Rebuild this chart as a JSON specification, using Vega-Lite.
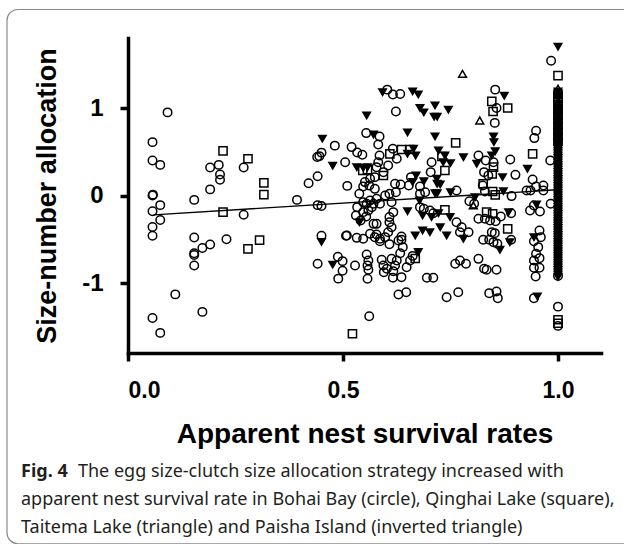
{
  "$schema": "https://vega.github.io/schema/vega-lite/v6.json",
  "width": 473,
  "height": 315,
  "autosize": {"type": "none"},
  "padding": {"left": 128, "top": 38, "right": 23, "bottom": 191},
  "background": "white",
  "config": {"view": {"stroke": null}},
  "title": {
    "text": "Fig. 4",
    "subtitle": [
      "\u200b\u2003\u2003\u2003\u2009The egg size-clutch size allocation strategy increased with",
      "apparent nest survival rate in Bohai Bay (circle), Qinghai Lake (square),",
      "Taitema Lake (triangle) and Paisha Island (inverted triangle)"
    ],
    "orient": "bottom",
    "anchor": "start",
    "frame": "group",
    "dx": -107,
    "offset": -81,
    "font": "Noto Sans",
    "fontSize": 18,
    "fontWeight": "bold",
    "color": "#231f20",
    "subtitleFont": "Noto Sans",
    "subtitleFontSize": 18,
    "subtitleFontWeight": "normal",
    "subtitleColor": "#231f20",
    "subtitleLineHeight": 28,
    "subtitlePadding": -18
  },
  "datasets": {
    "frame": [{"x0": -0.2814, "x1": 1.25, "y0": 2.126, "y1": -3.98}],
    "fit": [{"rate": 0.059, "alloc": -0.221}, {"rate": 0.997, "alloc": 0.065}],
    "pts": [
      {"rate":0.092,"alloc":0.95,"site":"B"},{"rate":0.057,"alloc":0.61,"site":"B"},{"rate":0.057,"alloc":0.40,"site":"B"},{"rate":0.075,"alloc":0.35,"site":"B"},
      {"rate":0.057,"alloc":0.00,"site":"B"},{"rate":0.058,"alloc":0.01,"site":"B"},{"rate":0.075,"alloc":-0.11,"site":"B"},{"rate":0.057,"alloc":-0.18,"site":"B"},
      {"rate":0.075,"alloc":-0.28,"site":"B"},{"rate":0.057,"alloc":-0.36,"site":"B"},{"rate":0.057,"alloc":-0.46,"site":"B"},{"rate":0.110,"alloc":-1.13,"site":"B"},
      {"rate":0.057,"alloc":-1.40,"site":"B"},{"rate":0.075,"alloc":-1.57,"site":"B"},{"rate":0.154,"alloc":-0.05,"site":"B"},{"rate":0.154,"alloc":-0.48,"site":"B"},
      {"rate":0.154,"alloc":-0.66,"site":"B"},{"rate":0.154,"alloc":-0.68,"site":"B"},{"rate":0.154,"alloc":-0.80,"site":"B"},{"rate":0.173,"alloc":-0.60,"site":"B"},
      {"rate":0.191,"alloc":-0.56,"site":"B"},{"rate":0.173,"alloc":-1.33,"site":"B"},{"rate":0.191,"alloc":0.32,"site":"B"},{"rate":0.211,"alloc":0.35,"site":"B"},
      {"rate":0.214,"alloc":0.24,"site":"B"},{"rate":0.214,"alloc":0.18,"site":"B"},{"rate":0.191,"alloc":0.07,"site":"B"},{"rate":0.229,"alloc":-0.50,"site":"B"},
      {"rate":0.269,"alloc":0.32,"site":"B"},{"rate":0.269,"alloc":-0.22,"site":"B"},
      {"rate":0.221,"alloc":0.51,"site":"Q"},{"rate":0.279,"alloc":0.42,"site":"Q"},{"rate":0.316,"alloc":0.145,"site":"Q"},{"rate":0.316,"alloc":0.01,"site":"Q"},
      {"rate":0.221,"alloc":-0.19,"site":"Q"},{"rate":0.279,"alloc":-0.61,"site":"Q"},{"rate":0.306,"alloc":-0.51,"site":"Q"},
      {"rate":0.393,"alloc":-0.05,"site":"B"},{"rate":0.420,"alloc":0.14,"site":"B"},{"rate":0.441,"alloc":0.22,"site":"B"},{"rate":0.440,"alloc":0.44,"site":"B"},
      {"rate":0.445,"alloc":0.45,"site":"B"},{"rate":0.450,"alloc":0.49,"site":"B"},{"rate":0.481,"alloc":0.57,"site":"B"},{"rate":0.505,"alloc":0.38,"site":"B"},
      {"rate":0.510,"alloc":0.11,"site":"B"},{"rate":0.441,"alloc":-0.11,"site":"B"},{"rate":0.450,"alloc":-0.12,"site":"B"},{"rate":0.450,"alloc":-0.46,"site":"B"},
      {"rate":0.507,"alloc":-0.46,"site":"B"},{"rate":0.441,"alloc":-0.78,"site":"B"},{"rate":0.488,"alloc":-0.70,"site":"B"},{"rate":0.499,"alloc":-0.75,"site":"B"},
      {"rate":0.499,"alloc":-0.86,"site":"B"},{"rate":0.489,"alloc":-0.95,"site":"B"},
      {"rate":0.452,"alloc":0.65,"site":"P"},{"rate":0.476,"alloc":0.34,"site":"P"},{"rate":0.450,"alloc":-0.53,"site":"P"},{"rate":0.476,"alloc":-0.79,"site":"P"},
      {"rate":0.528,"alloc":-0.80,"site":"B"},{"rate":0.522,"alloc":-1.58,"site":"Q"},{"rate":0.561,"alloc":-1.38,"site":"B"},
      {"rate":1.0,"alloc":1.70,"site":"P"},{"rate":0.984,"alloc":1.54,"site":"B"},{"rate":1.0,"alloc":1.37,"site":"Q"},{"rate":0.778,"alloc":1.39,"site":"T"},
      {"rate":0.592,"alloc":1.18,"site":"P"},{"rate":0.603,"alloc":1.21,"site":"B"},{"rate":0.616,"alloc":1.155,"site":"B"},{"rate":0.633,"alloc":1.16,"site":"B"},
      {"rate":0.662,"alloc":1.19,"site":"P"},{"rate":0.675,"alloc":1.155,"site":"P"},{"rate":0.854,"alloc":1.21,"site":"B"},{"rate":0.875,"alloc":1.14,"site":"P"},
      {"rate":0.846,"alloc":1.075,"site":"Q"},{"rate":0.857,"alloc":1.00,"site":"B"},{"rate":0.849,"alloc":0.96,"site":"Q"},{"rate":0.883,"alloc":1.00,"site":"Q"},
      {"rate":0.623,"alloc":0.96,"site":"B"},{"rate":0.679,"alloc":1.00,"site":"P"},{"rate":0.688,"alloc":0.95,"site":"P"},{"rate":0.714,"alloc":1.03,"site":"P"},
      {"rate":0.712,"alloc":0.90,"site":"P"},{"rate":0.719,"alloc":0.90,"site":"P"},{"rate":0.745,"alloc":0.98,"site":"P"},{"rate":0.555,"alloc":0.915,"site":"P"},
      {"rate":0.818,"alloc":0.857,"site":"T"},{"rate":0.853,"alloc":0.83,"site":"B"},{"rate":0.949,"alloc":0.74,"site":"B"},{"rate":0.945,"alloc":0.656,"site":"B"},
      {"rate":0.850,"alloc":0.675,"site":"P"},{"rate":0.851,"alloc":0.61,"site":"P"},{"rate":0.650,"alloc":0.72,"site":"P"},{"rate":0.714,"alloc":0.675,"site":"P"},
      {"rate":0.554,"alloc":0.713,"site":"B"},{"rate":0.571,"alloc":0.697,"site":"P"},{"rate":0.585,"alloc":0.675,"site":"B"},{"rate":0.582,"alloc":0.583,"site":"B"},
      {"rate":0.762,"alloc":0.602,"site":"Q"},{"rate":0.520,"alloc":0.553,"site":"B"},{"rate":0.533,"alloc":0.492,"site":"B"},{"rate":0.545,"alloc":0.465,"site":"B"},
      {"rate":0.636,"alloc":0.526,"site":"Q"},{"rate":0.656,"alloc":0.526,"site":"Q"},{"rate":0.664,"alloc":0.534,"site":"P"},{"rate":0.650,"alloc":0.476,"site":"P"},
      {"rate":0.669,"alloc":0.457,"site":"P"},{"rate":0.609,"alloc":0.476,"site":"Q"},{"rate":0.616,"alloc":0.534,"site":"B"},{"rate":0.625,"alloc":0.419,"site":"B"},
      {"rate":0.585,"alloc":0.457,"site":"B"},{"rate":0.582,"alloc":0.381,"site":"B"},{"rate":0.722,"alloc":0.515,"site":"P"},{"rate":0.737,"alloc":0.457,"site":"P"},
      {"rate":0.733,"alloc":0.381,"site":"P"},{"rate":0.730,"alloc":0.446,"site":"Q"},{"rate":0.750,"alloc":0.370,"site":"P"},{"rate":0.780,"alloc":0.438,"site":"P"},
      {"rate":0.941,"alloc":0.476,"site":"Q"},{"rate":0.815,"alloc":0.457,"site":"B"},{"rate":0.832,"alloc":0.400,"site":"B"},{"rate":0.811,"alloc":0.362,"site":"P"},
      {"rate":0.846,"alloc":0.457,"site":"P"},{"rate":0.854,"alloc":0.507,"site":"P"},{"rate":0.889,"alloc":0.412,"site":"B"},{"rate":0.982,"alloc":0.400,"site":"B"},
      {"rate":0.532,"alloc":0.324,"site":"P"},{"rate":0.547,"alloc":0.317,"site":"P"},{"rate":0.557,"alloc":0.324,"site":"P"},{"rate":0.546,"alloc":0.286,"site":"Q"},
      {"rate":0.557,"alloc":0.294,"site":"Q"},{"rate":0.578,"alloc":0.324,"site":"B"},{"rate":0.594,"alloc":0.267,"site":"B"},{"rate":0.605,"alloc":0.343,"site":"B"},
      {"rate":0.594,"alloc":0.229,"site":"Q"},{"rate":0.574,"alloc":0.210,"site":"B"},{"rate":0.563,"alloc":0.191,"site":"B"},{"rate":0.551,"alloc":0.153,"site":"B"},
      {"rate":0.706,"alloc":0.381,"site":"B"},{"rate":0.704,"alloc":0.267,"site":"B"},{"rate":0.737,"alloc":0.286,"site":"Q"},{"rate":0.670,"alloc":0.229,"site":"P"},
      {"rate":0.662,"alloc":0.153,"site":"P"},{"rate":0.688,"alloc":0.164,"site":"P"},{"rate":0.718,"alloc":0.191,"site":"P"},{"rate":0.719,"alloc":0.134,"site":"P"},
      {"rate":0.726,"alloc":0.126,"site":"P"},{"rate":0.658,"alloc":0.210,"site":"B"},{"rate":0.679,"alloc":0.103,"site":"B"},{"rate":0.653,"alloc":0.115,"site":"B"},
      {"rate":0.634,"alloc":0.126,"site":"B"},{"rate":0.621,"alloc":0.134,"site":"B"},{"rate":0.826,"alloc":0.134,"site":"Q"},{"rate":0.847,"alloc":0.248,"site":"Q"},
      {"rate":0.850,"alloc":0.324,"site":"Q"},{"rate":0.828,"alloc":0.267,"site":"B"},{"rate":0.838,"alloc":0.229,"site":"B"},{"rate":0.850,"alloc":0.381,"site":"B"},
      {"rate":0.871,"alloc":0.210,"site":"P"},{"rate":0.901,"alloc":0.236,"site":"B"},{"rate":0.929,"alloc":0.305,"site":"P"},{"rate":0.941,"alloc":0.183,"site":"B"},
      {"rate":0.966,"alloc":0.115,"site":"B"},{"rate":0.949,"alloc":0.103,"site":"B"},{"rate":0.936,"alloc":0.057,"site":"B"},{"rate":0.927,"alloc":0.057,"site":"B"},
      {"rate":0.966,"alloc":0.057,"site":"B"},{"rate":0.892,"alloc":-0.007,"site":"B"},{"rate":0.873,"alloc":0.050,"site":"P"},{"rate":0.848,"alloc":0.046,"site":"Q"},
      {"rate":0.854,"alloc":0.008,"site":"Q"},{"rate":0.830,"alloc":0.046,"site":"B"},{"rate":0.825,"alloc":0.115,"site":"B"},{"rate":0.764,"alloc":0.057,"site":"B"},
      {"rate":0.750,"alloc":0.038,"site":"P"},{"rate":0.719,"alloc":0.027,"site":"P"},{"rate":0.714,"alloc":0.027,"site":"P"},{"rate":0.691,"alloc":0.038,"site":"B"},
      {"rate":0.679,"alloc":0.019,"site":"B"},{"rate":0.678,"alloc":-0.057,"site":"P"},{"rate":0.623,"alloc":0.038,"site":"B"},{"rate":0.608,"alloc":0.019,"site":"B"},
      {"rate":0.598,"alloc":0.000,"site":"B"},{"rate":0.574,"alloc":0.076,"site":"B"},{"rate":0.561,"alloc":0.115,"site":"B"},{"rate":0.547,"alloc":0.103,"site":"B"},
      {"rate":0.538,"alloc":0.019,"site":"B"},{"rate":0.563,"alloc":-0.057,"site":"B"},{"rate":0.571,"alloc":-0.095,"site":"B"},{"rate":0.555,"alloc":-0.095,"site":"B"},
      {"rate":0.586,"alloc":-0.095,"site":"B"},{"rate":0.547,"alloc":-0.076,"site":"B"},{"rate":0.578,"alloc":-0.038,"site":"B"},{"rate":0.567,"alloc":-0.133,"site":"B"},
      {"rate":0.559,"alloc":-0.171,"site":"B"},{"rate":0.533,"alloc":-0.133,"site":"B"},{"rate":0.530,"alloc":-0.228,"site":"B"},{"rate":0.547,"alloc":-0.190,"site":"B"},
      {"rate":0.554,"alloc":-0.240,"site":"B"},{"rate":0.541,"alloc":-0.285,"site":"B"},{"rate":0.538,"alloc":-0.305,"site":"P"},{"rate":0.613,"alloc":-0.076,"site":"B"},
      {"rate":0.617,"alloc":-0.190,"site":"B"},{"rate":0.608,"alloc":-0.247,"site":"B"},{"rate":0.608,"alloc":-0.305,"site":"B"},{"rate":0.650,"alloc":-0.179,"site":"P"},
      {"rate":0.679,"alloc":-0.133,"site":"B"},{"rate":0.688,"alloc":-0.152,"site":"B"},{"rate":0.702,"alloc":-0.171,"site":"B"},{"rate":0.710,"alloc":-0.202,"site":"B"},
      {"rate":0.685,"alloc":-0.228,"site":"P"},{"rate":0.722,"alloc":-0.202,"site":"P"},{"rate":0.706,"alloc":-0.247,"site":"P"},{"rate":0.737,"alloc":-0.164,"site":"Q"},
      {"rate":0.749,"alloc":-0.247,"site":"P"},{"rate":0.764,"alloc":-0.305,"site":"B"},{"rate":0.776,"alloc":-0.362,"site":"B"},{"rate":0.792,"alloc":-0.419,"site":"B"},
      {"rate":0.772,"alloc":-0.419,"site":"B"},{"rate":0.780,"alloc":-0.495,"site":"P"},{"rate":0.794,"alloc":-0.065,"site":"B"},{"rate":0.805,"alloc":-0.095,"site":"B"},
      {"rate":0.807,"alloc":-0.019,"site":"P"},{"rate":0.803,"alloc":-0.114,"site":"T"},{"rate":0.834,"alloc":-0.190,"site":"Q"},{"rate":0.848,"alloc":-0.209,"site":"Q"},
      {"rate":0.815,"alloc":-0.266,"site":"B"},{"rate":0.830,"alloc":-0.266,"site":"B"},{"rate":0.842,"alloc":-0.285,"site":"B"},{"rate":0.855,"alloc":-0.293,"site":"B"},
      {"rate":0.867,"alloc":-0.240,"site":"B"},{"rate":0.891,"alloc":-0.202,"site":"B"},{"rate":0.885,"alloc":-0.190,"site":"P"},{"rate":0.883,"alloc":-0.381,"site":"Q"},
      {"rate":0.935,"alloc":-0.171,"site":"B"},{"rate":0.958,"alloc":-0.183,"site":"B"},{"rate":0.944,"alloc":-0.114,"site":"B"},{"rate":0.950,"alloc":-0.103,"site":"P"},
      {"rate":0.983,"alloc":-0.095,"site":"B"},{"rate":0.826,"alloc":-0.506,"site":"B"},{"rate":0.840,"alloc":-0.506,"site":"B"},{"rate":0.850,"alloc":-0.533,"site":"B"},
      {"rate":0.859,"alloc":-0.552,"site":"B"},{"rate":0.853,"alloc":-0.430,"site":"B"},{"rate":0.846,"alloc":-0.419,"site":"B"},{"rate":0.865,"alloc":-0.621,"site":"P"},
      {"rate":0.891,"alloc":-0.506,"site":"B"},{"rate":0.888,"alloc":-0.533,"site":"P"},{"rate":0.957,"alloc":-0.400,"site":"B"},{"rate":0.960,"alloc":-0.476,"site":"B"},
      {"rate":0.944,"alloc":-0.522,"site":"B"},{"rate":0.954,"alloc":-0.590,"site":"B"},{"rate":0.944,"alloc":-0.476,"site":"P"},{"rate":0.944,"alloc":-0.743,"site":"B"},
      {"rate":0.957,"alloc":-0.716,"site":"B"},{"rate":0.949,"alloc":-0.666,"site":"B"},{"rate":0.944,"alloc":-0.826,"site":"B"},{"rate":0.957,"alloc":-0.826,"site":"B"},
      {"rate":0.948,"alloc":-0.925,"site":"B"},{"rate":0.944,"alloc":-1.173,"site":"B"},{"rate":0.952,"alloc":-1.154,"site":"P"},{"rate":0.857,"alloc":-1.097,"site":"B"},
      {"rate":0.840,"alloc":-1.116,"site":"B"},{"rate":0.860,"alloc":-1.173,"site":"B"},{"rate":0.741,"alloc":-1.162,"site":"B"},{"rate":0.768,"alloc":-1.105,"site":"B"},
      {"rate":0.629,"alloc":-1.131,"site":"B"},{"rate":0.647,"alloc":-1.105,"site":"B"},{"rate":0.695,"alloc":-0.941,"site":"B"},{"rate":0.710,"alloc":-0.941,"site":"B"},
      {"rate":0.761,"alloc":-0.781,"site":"B"},{"rate":0.772,"alloc":-0.743,"site":"B"},{"rate":0.786,"alloc":-0.781,"site":"B"},{"rate":0.815,"alloc":-0.724,"site":"B"},
      {"rate":0.828,"alloc":-0.838,"site":"B"},{"rate":0.834,"alloc":-0.849,"site":"B"},{"rate":0.857,"alloc":-0.849,"site":"B"},{"rate":0.613,"alloc":-0.724,"site":"B"},
      {"rate":0.621,"alloc":-0.800,"site":"B"},{"rate":0.625,"alloc":-0.743,"site":"B"},{"rate":0.633,"alloc":-0.659,"site":"B"},{"rate":0.639,"alloc":-0.590,"site":"B"},
      {"rate":0.636,"alloc":-0.506,"site":"B"},{"rate":0.636,"alloc":-0.468,"site":"B"},{"rate":0.656,"alloc":-0.743,"site":"B"},{"rate":0.648,"alloc":-0.819,"site":"B"},
      {"rate":0.662,"alloc":-0.690,"site":"B"},{"rate":0.668,"alloc":-0.720,"site":"Q"},{"rate":0.675,"alloc":-0.647,"site":"P"},{"rate":0.668,"alloc":-0.457,"site":"P"},
      {"rate":0.685,"alloc":-0.400,"site":"P"},{"rate":0.702,"alloc":-0.419,"site":"P"},{"rate":0.726,"alloc":-0.362,"site":"P"},{"rate":0.741,"alloc":-0.457,"site":"P"},
      {"rate":0.613,"alloc":-0.362,"site":"B"},{"rate":0.605,"alloc":-0.419,"site":"B"},{"rate":0.598,"alloc":-0.476,"site":"B"},{"rate":0.586,"alloc":-0.495,"site":"B"},
      {"rate":0.578,"alloc":-0.446,"site":"B"},{"rate":0.509,"alloc":-0.457,"site":"B"},{"rate":0.532,"alloc":-0.484,"site":"B"},{"rate":0.547,"alloc":-0.495,"site":"B"},
      {"rate":0.563,"alloc":-0.438,"site":"B"},{"rate":0.571,"alloc":-0.324,"site":"B"},{"rate":0.578,"alloc":-0.324,"site":"B"},{"rate":0.574,"alloc":-0.476,"site":"B"},
      {"rate":0.586,"alloc":-0.522,"site":"B"},{"rate":0.555,"alloc":-0.674,"site":"B"},{"rate":0.559,"alloc":-0.743,"site":"B"},{"rate":0.557,"alloc":-0.800,"site":"B"},
      {"rate":0.559,"alloc":-0.849,"site":"B"},{"rate":0.557,"alloc":-0.952,"site":"B"},{"rate":0.590,"alloc":-0.735,"site":"B"},{"rate":0.594,"alloc":-0.800,"site":"B"},
      {"rate":0.595,"alloc":-0.876,"site":"B"},{"rate":0.602,"alloc":-0.838,"site":"B"},{"rate":0.617,"alloc":-0.865,"site":"B"},{"rate":0.616,"alloc":-0.941,"site":"B"},
      {"rate":0.636,"alloc":-0.933,"site":"B"},{"rate":0.608,"alloc":-0.556,"site":"B"},{"rate":0.629,"alloc":-0.515,"site":"B"},
      {"rate":1.0,"alloc":1.22,"site":"T"},
      {"rate":1.0,"alloc":1.16,"site":"Q"},{"rate":1.0,"alloc":1.12,"site":"Q"},{"rate":1.0,"alloc":1.08,"site":"Q"},{"rate":1.0,"alloc":1.03,"site":"Q"},
      {"rate":1.0,"alloc":0.97,"site":"Q"},{"rate":1.0,"alloc":0.92,"site":"Q"},{"rate":1.0,"alloc":0.86,"site":"Q"},{"rate":1.0,"alloc":0.80,"site":"Q"},
      {"rate":1.0,"alloc":0.74,"site":"Q"},{"rate":1.0,"alloc":0.68,"site":"Q"},{"rate":1.0,"alloc":0.62,"site":"Q"},
      {"rate":1.0,"alloc":-0.92,"site":"B"},{"rate":1.0,"alloc":-1.27,"site":"B"},{"rate":1.0,"alloc":-1.42,"site":"Q"},{"rate":1.0,"alloc":-1.46,"site":"Q"},
      {"rate":1.0,"alloc":-1.49,"site":"B"},
      {"rate":1.0,"alloc":1.19,"site":"P"},{"rate":1.0,"alloc":1.13,"site":"P"},{"rate":1.0,"alloc":1.10,"site":"P"},{"rate":1.0,"alloc":1.05,"site":"P"},
      {"rate":1.0,"alloc":1.01,"site":"P"},{"rate":1.0,"alloc":0.98,"site":"P"},{"rate":1.0,"alloc":0.95,"site":"P"},{"rate":1.0,"alloc":0.91,"site":"P"},
      {"rate":1.0,"alloc":0.89,"site":"P"},{"rate":1.0,"alloc":0.85,"site":"P"},{"rate":1.0,"alloc":0.83,"site":"P"},{"rate":1.0,"alloc":0.79,"site":"P"},
      {"rate":1.0,"alloc":0.77,"site":"P"},{"rate":1.0,"alloc":0.73,"site":"P"},{"rate":1.0,"alloc":0.71,"site":"P"},{"rate":1.0,"alloc":0.67,"site":"P"},
      {"rate":1.0,"alloc":0.65,"site":"P"},{"rate":1.0,"alloc":0.61,"site":"P"},{"rate":1.0,"alloc":0.59,"site":"P"},{"rate":1.0,"alloc":0.57,"site":"P"},
      {"rate":1.0,"alloc":0.55,"site":"P"},{"rate":1.0,"alloc":0.53,"site":"P"},{"rate":1.0,"alloc":0.51,"site":"P"},{"rate":1.0,"alloc":0.49,"site":"P"},
      {"rate":1.0,"alloc":0.47,"site":"P"},{"rate":1.0,"alloc":0.45,"site":"P"},{"rate":1.0,"alloc":0.43,"site":"P"},{"rate":1.0,"alloc":0.41,"site":"P"},
      {"rate":1.0,"alloc":0.39,"site":"P"},{"rate":1.0,"alloc":0.37,"site":"P"},{"rate":1.0,"alloc":0.35,"site":"P"},{"rate":1.0,"alloc":0.33,"site":"P"},
      {"rate":1.0,"alloc":0.31,"site":"P"},{"rate":1.0,"alloc":0.29,"site":"P"},{"rate":1.0,"alloc":0.27,"site":"P"},{"rate":1.0,"alloc":0.25,"site":"P"},
      {"rate":1.0,"alloc":0.23,"site":"P"},{"rate":1.0,"alloc":0.21,"site":"P"},{"rate":1.0,"alloc":0.19,"site":"P"},{"rate":1.0,"alloc":0.17,"site":"P"},
      {"rate":1.0,"alloc":0.15,"site":"P"},{"rate":1.0,"alloc":0.13,"site":"P"},{"rate":1.0,"alloc":0.11,"site":"P"},{"rate":1.0,"alloc":0.09,"site":"P"},
      {"rate":1.0,"alloc":0.07,"site":"P"},{"rate":1.0,"alloc":0.05,"site":"P"},{"rate":1.0,"alloc":0.03,"site":"P"},{"rate":1.0,"alloc":0.01,"site":"P"},
      {"rate":1.0,"alloc":-0.01,"site":"P"},{"rate":1.0,"alloc":-0.03,"site":"P"},{"rate":1.0,"alloc":-0.05,"site":"P"},{"rate":1.0,"alloc":-0.07,"site":"P"},
      {"rate":1.0,"alloc":-0.09,"site":"P"},{"rate":1.0,"alloc":-0.11,"site":"P"},{"rate":1.0,"alloc":-0.13,"site":"P"},{"rate":1.0,"alloc":-0.15,"site":"P"},
      {"rate":1.0,"alloc":-0.17,"site":"P"},{"rate":1.0,"alloc":-0.19,"site":"P"},{"rate":1.0,"alloc":-0.21,"site":"P"},{"rate":1.0,"alloc":-0.23,"site":"P"},
      {"rate":1.0,"alloc":-0.25,"site":"P"},{"rate":1.0,"alloc":-0.27,"site":"P"},{"rate":1.0,"alloc":-0.29,"site":"P"},{"rate":1.0,"alloc":-0.31,"site":"P"},
      {"rate":1.0,"alloc":-0.33,"site":"P"},{"rate":1.0,"alloc":-0.35,"site":"P"},{"rate":1.0,"alloc":-0.37,"site":"P"},{"rate":1.0,"alloc":-0.39,"site":"P"},
      {"rate":1.0,"alloc":-0.41,"site":"P"},{"rate":1.0,"alloc":-0.43,"site":"P"},{"rate":1.0,"alloc":-0.45,"site":"P"},{"rate":1.0,"alloc":-0.47,"site":"P"},
      {"rate":1.0,"alloc":-0.49,"site":"P"},{"rate":1.0,"alloc":-0.51,"site":"P"},{"rate":1.0,"alloc":-0.53,"site":"P"},{"rate":1.0,"alloc":-0.55,"site":"P"},
      {"rate":1.0,"alloc":-0.57,"site":"P"},{"rate":1.0,"alloc":-0.59,"site":"P"},{"rate":1.0,"alloc":-0.61,"site":"P"},{"rate":1.0,"alloc":-0.63,"site":"P"},
      {"rate":1.0,"alloc":-0.65,"site":"P"},{"rate":1.0,"alloc":-0.67,"site":"P"},{"rate":1.0,"alloc":-0.69,"site":"P"},{"rate":1.0,"alloc":-0.71,"site":"P"},
      {"rate":1.0,"alloc":-0.73,"site":"P"},{"rate":1.0,"alloc":-0.75,"site":"P"},{"rate":1.0,"alloc":-0.77,"site":"P"},{"rate":1.0,"alloc":-0.79,"site":"P"},
      {"rate":1.0,"alloc":-0.81,"site":"P"},{"rate":1.0,"alloc":-0.83,"site":"P"},{"rate":1.0,"alloc":-0.85,"site":"P"},{"rate":1.0,"alloc":-0.87,"site":"P"},
      {"rate":1.0,"alloc":-0.89,"site":"P"},{"rate":1.0,"alloc":-0.91,"site":"P"},{"rate":1.0,"alloc":-0.93,"site":"P"}
    ]
  },
  "encoding": {
    "x": {
      "field": "rate", "type": "quantitative",
      "scale": {"domain": [0, 1.1], "nice": false, "zero": false},
      "axis": {
        "values": [0, 0.5, 1.0], "format": ".1f", "grid": false,
        "domainColor": "black", "domainWidth": 3.5, "domainCap": "square",
        "tickColor": "black", "tickWidth": 3.5, "tickSize": 8,
        "labelFont": "Liberation Sans", "labelFontSize": 23, "labelFontWeight": "bold", "labelColor": "black",
        "labelPadding": 18,
        "title": "Apparent nest survival rates",
        "titleFont": "Liberation Sans", "titleFontSize": 28, "titleFontWeight": "bold", "titleColor": "black",
        "titlePadding": 18
      }
    },
    "y": {
      "field": "alloc", "type": "quantitative",
      "scale": {"domain": [-1.8, 1.8], "nice": false, "zero": false},
      "axis": {
        "values": [-1, 0, 1], "grid": false,
        "labelExpr": "datum.value < 0 ? '-' + abs(datum.value) : '' + datum.value",
        "domainColor": "black", "domainWidth": 3.5, "domainCap": "square",
        "tickColor": "black", "tickWidth": 3.5, "tickSize": 8,
        "labelFont": "Liberation Sans", "labelFontSize": 24, "labelFontWeight": "bold", "labelColor": "black",
        "labelPadding": 17,
        "title": "Size-number allocation",
        "titleFont": "Liberation Sans", "titleFontSize": 27, "titleFontWeight": "bold", "titleColor": "black",
        "titlePadding": 20
      }
    }
  },
  "layer": [
    {
      "data": {"name": "frame"},
      "mark": {"type": "rect", "fill": null, "stroke": "#8a8a8a", "strokeWidth": 1.2, "cornerRadius": 11, "clip": false},
      "encoding": {
        "x": {"field": "x0", "type": "quantitative"},
        "x2": {"field": "x1"},
        "y": {"field": "y0", "type": "quantitative"},
        "y2": {"field": "y1"}
      }
    },
    {
      "data": {"name": "fit"},
      "mark": {"type": "line", "color": "black", "strokeWidth": 1.4},
      "encoding": {}
    },
    {
      "data": {"name": "pts"},
      "mark": {"type": "point", "filled": false, "strokeWidth": 1.5, "opacity": 1},
      "encoding": {
        "shape": {"field": "site", "type": "nominal", "scale": {"domain": ["B", "Q", "T", "P"], "range": ["circle", "square", "triangle-up", "triangle-down"]}, "legend": null},
        "fill": {"field": "site", "type": "nominal", "scale": {"domain": ["B", "Q", "T", "P"], "range": ["transparent", "transparent", "transparent", "black"]}, "legend": null},
        "stroke": {"value": "black"},
        "size": {"field": "site", "type": "nominal", "scale": {"domain": ["B", "Q", "T", "P"], "range": [72, 56, 56, 44]}, "legend": null}
      }
    }
  ]
}
